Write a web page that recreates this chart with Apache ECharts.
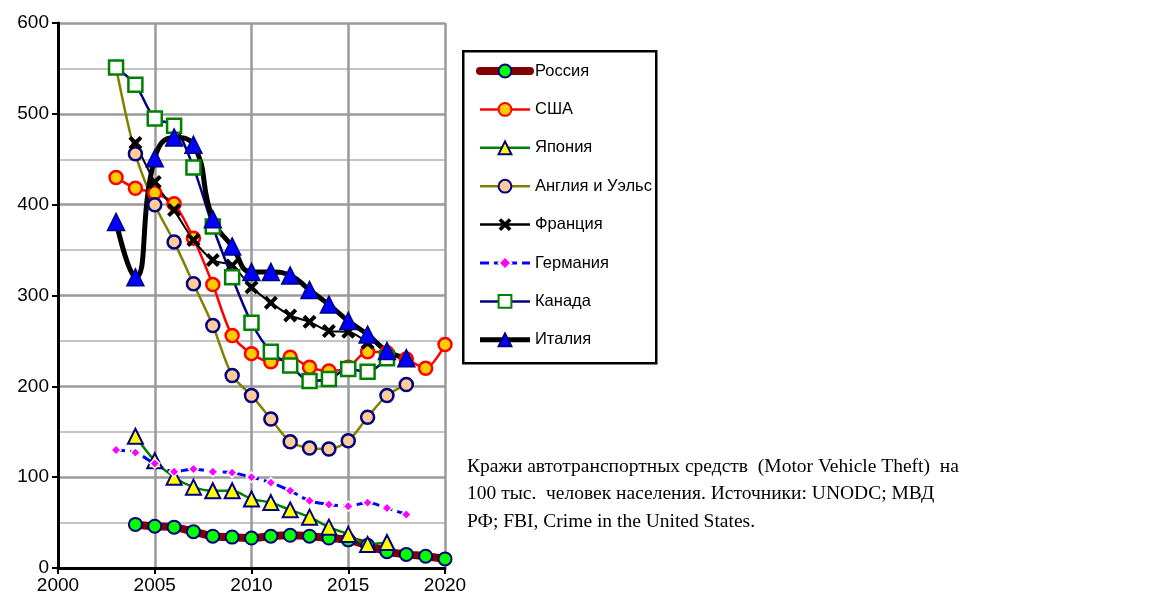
<!DOCTYPE html>
<html>
<head>
<meta charset="utf-8">
<script src="https://cdn.jsdelivr.net/npm/echarts@6/dist/echarts.min.js"></script>
<style>
html,body{margin:0;padding:0;background:#fff}
#main{width:1154px;height:597px}
</style>
</head>
<body>
<div id="main"></div>
<script>
// годы и значения (на 100 тыс. населения), null = нет данных
var years   = [2003,2004,2005,2006,2007,2008,2009,2010,2011,2012,2013,2014,2015,2016,2017,2018,2019,2020];
var russia  = [null,48,46,45,40,35,34,33,35,36,35,33,31,25,18,15,13,10];
var usa     = [430,418,413,401,363,312,256,236,227,232,221,217,221,238,237,230,220,246];
var japan   = [null,145,118,100,89,85,85,76,72,64,56,45,37,26,28,null,null,null];
var england = [551,456,400,359,313,267,212,190,164,139,132,131,140,166,190,202,null,null];
var france  = [null,468,425,394,361,339,333,309,292,278,271,261,260,248,null,null,null,null];
var germany = [130,127,115,106,109,106,105,100,94,85,74,70,68,72,66,59,null,null];
var canada  = [551,532,495,487,441,376,320,270,238,223,206,208,219,216,231,null,null,null];
var italy   = [381,320,451,474,466,384,354,326,326,322,306,290,272,257,239,231,null,null];

var yTicks = [0,100,200,300,400,500,600];
var xTicks = [2000,2005,2010,2015,2020];

var note = 'Кражи автотранспортных средств  (Motor Vehicle Theft)  на\n' +
           '100 тыс.  человек населения. Источники: UNODC; МВД\n' +
           'РФ; FBI, Crime in the United States.';

function pairs(vals){
    var out = [];
    for(var i=0;i<years.length;i++){
        if(vals[i] !== null) out.push([years[i], vals[i]]);
    }
    return out;
}

var xSymbol = 'path://M0,2L2,0L5,3L8,0L10,2L7,5L10,8L8,10L5,7L2,10L0,8L3,5Z';

var chart = echarts.init(document.getElementById('main'));

var option = {
    animation: false,
    backgroundColor: '#fff',
    grid: {left: 58, right: 709, top: 23, bottom: 29},
    xAxis: {
        type: 'value',
        min: xTicks[0], max: xTicks[xTicks.length-1], interval: 5,
        axisLine: {onZero: false, lineStyle: {color: '#000', width: 3}},
        axisTick: {show: true, length: 6, lineStyle: {color: '#000', width: 2}},
        axisLabel: {color: '#000', fontSize: 19, fontFamily: 'Liberation Sans', margin: 8,
            formatter: function(v){ return String(v); }},
        splitLine: {show: true, lineStyle: {color: '#9a9a9a', width: 2.5}}
    },
    yAxis: {
        type: 'value',
        min: yTicks[0], max: yTicks[yTicks.length-1], interval: 100,
        axisLine: {show: true, lineStyle: {color: '#000', width: 3}},
        axisTick: {show: true, length: 6, lineStyle: {color: '#000', width: 2}},
        axisLabel: {color: '#000', fontSize: 19, fontFamily: 'Liberation Sans', margin: 9},
        splitLine: {show: true, lineStyle: {color: '#9a9a9a', width: 2.5}},
        minorTick: {show: false, splitNumber: 2},
        minorSplitLine: {show: true, lineStyle: {color: '#c4c4c4', width: 2}}
    },
    legend: {
        orient: 'vertical',
        left: 462, top: 50,
        padding: [11, 10, 10, 14],
        itemWidth: 50, itemHeight: 16, itemGap: 18.4,
        textStyle: {color: '#000', fontSize: 16.5, fontFamily: 'Liberation Sans', lineHeight: 20},
        data: [
            {name: 'Россия', lineStyle: {width: 8}},
            {name: 'США', lineStyle: {width: 2.5}},
            {name: 'Япония', lineStyle: {width: 2.5}},
            {name: 'Англия и Уэльс', lineStyle: {width: 2.5}},
            {name: 'Франция', lineStyle: {width: 2.5}},
            {name: 'Германия', lineStyle: {width: 3}},
            {name: 'Канада', lineStyle: {width: 2.5}},
            {name: 'Италия', lineStyle: {width: 5}}
        ]
    },
    graphic: [
        {
            type: 'rect', left: 462, top: 50, z: -1,
            shape: {width: 193, height: 312},
            style: {fill: '#fff', stroke: '#000', lineWidth: 2.5}
        },
        {
            type: 'text', left: 467, top: 453,
            style: {text: note, fill: '#000', font: '19.5px "Liberation Serif"', lineHeight: 27.5}
        }
    ],
    series: [
        {
            name: 'Россия', type: 'line', smooth: 0.3, data: pairs(russia),
            lineStyle: {color: '#800000', width: 8, cap: 'round'},
            symbol: 'circle', symbolSize: 13,
            itemStyle: {color: '#00ff00', borderColor: '#000080', borderWidth: 2}
        },
        {
            name: 'США', type: 'line', smooth: 0.3, data: pairs(usa),
            lineStyle: {color: '#ff0000', width: 2.5},
            symbol: 'circle', symbolSize: 13,
            itemStyle: {color: '#ffcc00', borderColor: '#ff0000', borderWidth: 2.5}
        },
        {
            name: 'Япония', type: 'line', smooth: 0.3, data: pairs(japan),
            lineStyle: {color: '#008000', width: 2.5},
            symbol: 'triangle', symbolSize: 15,
            itemStyle: {color: '#ffff00', borderColor: '#000080', borderWidth: 2}
        },
        {
            name: 'Англия и Уэльс', type: 'line', smooth: 0.3, data: pairs(england),
            lineStyle: {color: '#808000', width: 2.5},
            symbol: 'circle', symbolSize: 13,
            itemStyle: {color: '#ffcc99', borderColor: '#000080', borderWidth: 2.5}
        },
        {
            name: 'Франция', type: 'line', smooth: 0.3, data: pairs(france),
            lineStyle: {color: '#000', width: 2},
            symbol: xSymbol, symbolSize: 14,
            itemStyle: {color: '#000', borderColor: '#000', borderWidth: 0}
        },
        {
            name: 'Германия', type: 'line', smooth: 0.3, data: pairs(germany),
            lineStyle: {color: '#0000ff', width: 3, type: [9, 5]},
            symbol: 'diamond', symbolSize: 10,
            itemStyle: {color: '#ff00ff', borderColor: '#fff', borderWidth: 1.5}
        },
        {
            name: 'Канада', type: 'line', smooth: 0.3, data: pairs(canada),
            lineStyle: {color: '#000080', width: 2.5},
            symbol: 'rect', symbolSize: 14,
            itemStyle: {color: '#fff', borderColor: '#008000', borderWidth: 2.5}
        },
        {
            name: 'Италия', type: 'line', smooth: 0.5, data: pairs(italy),
            lineStyle: {color: '#000', width: 5},
            symbol: 'triangle', symbolSize: 17,
            itemStyle: {color: '#0000ff', borderColor: '#000080', borderWidth: 1.5}
        }
    ]
};

chart.setOption(option, true);
</script>
</body>
</html>
